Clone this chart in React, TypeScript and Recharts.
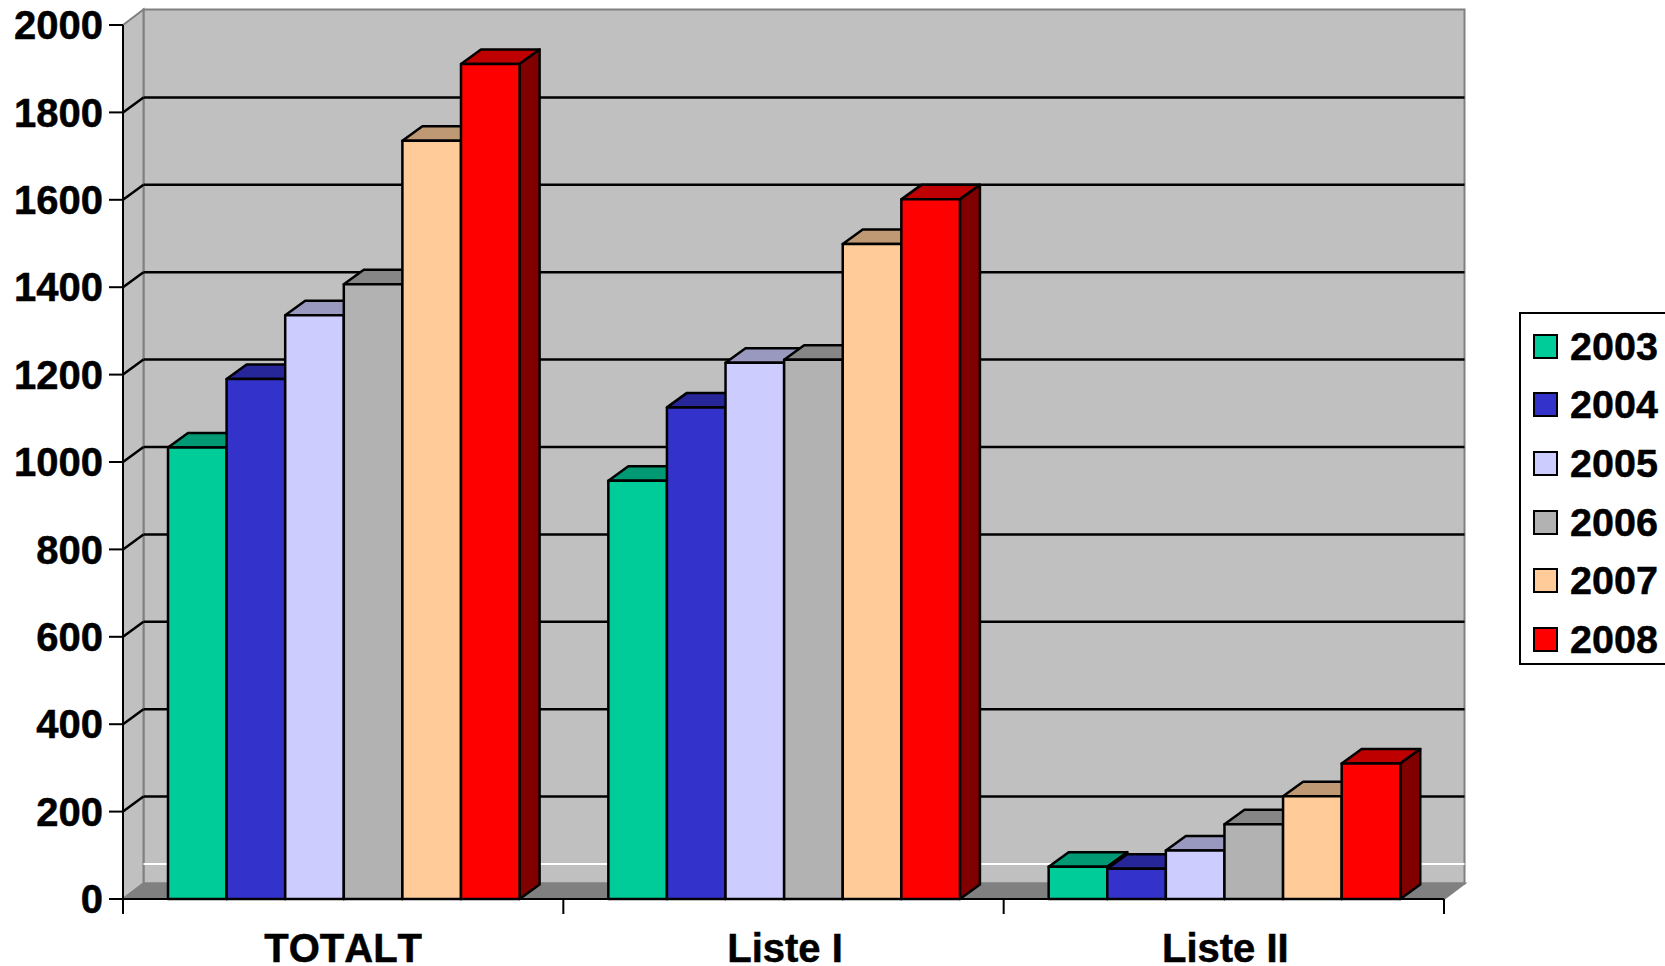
import { Bar, BarChart, CartesianGrid, Legend, XAxis, YAxis } from "recharts";

const categories = ["TOTALT", "Liste I", "Liste II"];
const years = ["2003", "2004", "2005", "2006", "2007", "2008"];

const values2003 = [1033, 957, 74];
const values2004 = [1190, 1125, 69];
const values2005 = [1336, 1227, 111];
const values2006 = [1407, 1234, 171];
const values2007 = [1735, 1499, 235];
const values2008 = [1911, 1601, 310];
const seriesValues = [values2003, values2004, values2005, values2006, values2007, values2008];

const yTicks = [0, 200, 400, 600, 800, 1000, 1200, 1400, 1600, 1800, 2000];

const frontColors = ["#00CC99", "#3333CC", "#CCCCFF", "#B2B2B2", "#FFCC99", "#FF0000"];
const topColors = ["#009973", "#262699", "#9999BF", "#868686", "#BF9973", "#BF0000"];
const sideColors = ["#00664D", "#1A1A66", "#666680", "#595959", "#80664D", "#800000"];

const data = categories.map((name, i) => {
  const row: Record<string, string | number> = { name };
  years.forEach((year, s) => {
    row[year] = seriesValues[s][i];
  });
  return row;
});

const font = "'Liberation Sans', Arial, sans-serif";
const depthX = 20;
const depthY = 14.5;
const wallX = 20.5;
const wallY = 15.5;
const gridY = 15;

function Box3D(props: any, top: string, side: string) {
  const { y, width, height, fill } = props;
  // recharts floors the group offset, so nudge back the lost pixel
  const x = props.x + 1;
  const r = x + width;
  const b = y + height;
  return (
    <g stroke="#000" strokeWidth={2.5} strokeLinejoin="round">
      <polygon points={`${x},${y} ${x + depthX},${y - depthY} ${r + depthX},${y - depthY} ${r},${y}`} fill={top} />
      <polygon points={`${r},${y} ${r + depthX},${y - depthY} ${r + depthX},${b - depthY} ${r},${b}`} fill={side} />
      <rect x={x} y={y} width={width} height={height} fill={fill} />
    </g>
  );
}

// back wall, side wall and floor go in with the first grid line so they sit behind the rest
function GridLine(props: any) {
  const { x1, x2, y1, index, x, y, width, height } = props;
  const left = x + wallX;
  const right = x + width + wallX;
  const bottom = y + height;
  const isEdge = y1 <= y + 1 || y1 >= bottom - 1;
  return (
    <g key={index}>
      {index === 0 && (
        <g stroke="#808080" strokeWidth={2}>
          <rect x={left} y={y - wallY} width={width} height={height} fill="#C0C0C0" />
          <polygon points={`${x},${y} ${left},${y - wallY} ${left},${bottom - wallY} ${x},${bottom}`} fill="#C0C0C0" />
          <polygon points={`${x},${bottom} ${left},${bottom - wallY} ${right},${bottom - wallY} ${x2},${bottom}`} fill="#808080" />
          <line x1={left} x2={right} y1={bottom - 35} y2={bottom - 35} stroke="#fff" />
        </g>
      )}
      {!isEdge && (
        <g stroke="#000" strokeWidth={2.5}>
          <line x1={x1} y1={y1} x2={x1 + wallX} y2={y1 - gridY} />
          <line x1={x1 + wallX} y1={y1 - gridY} x2={x2 + wallX} y2={y1 - gridY} />
        </g>
      )}
    </g>
  );
}

function CategoryTick(props: any) {
  const { x, y, payload, index } = props;
  const half = payload.offset;
  return (
    <g>
      <line x1={x - half} x2={x - half} y1={y} y2={y + 15} stroke="#000" strokeWidth={2} />
      {index === categories.length - 1 && (
        <line x1={x + half} x2={x + half} y1={y} y2={y + 15} stroke="#000" strokeWidth={2} />
      )}
      <text
        x={x + (index === 0 ? 0 : 1.5)}
        y={y + 63}
        textAnchor="middle"
        fontFamily={font}
        fontSize={40}
        fontWeight={700}
        fill="#000"
        stroke="#000"
        strokeWidth={0.5}
        style={{ fontKerning: "none" }}
      >
        {payload.value}
      </text>
    </g>
  );
}

function LegendBox({ payload }: any) {
  return (
    <div style={{ border: "2px solid #000", background: "#fff", width: 170, height: 353, boxSizing: "border-box", paddingTop: 3 }}>
      {(payload || []).map((item: any) => (
        <div key={item.value} style={{ display: "flex", alignItems: "center", height: 58.6 }}>
          <span style={{ width: 25, height: 25, boxSizing: "border-box", marginLeft: 12, marginRight: 12, border: "2px solid #000", background: item.color }} />
          <span style={{ fontFamily: font, fontSize: 39.5, fontWeight: 700, color: "#000", WebkitTextStroke: "0.5px #000" }}>{item.value}</span>
        </div>
      ))}
    </div>
  );
}

export default function App() {
  return (
    <div style={{ position: "absolute", left: 0, top: 0, width: 1665, height: 966, overflow: "hidden", background: "#fff" }}>
      <BarChart
        width={1665}
        height={966}
        data={data}
        margin={{ top: 25, right: 221, bottom: 0, left: 0 }}
        barSize={58.6}
        barGap={0}
      >
        <CartesianGrid vertical={false} horizontal={GridLine} />
        <XAxis
          dataKey="name"
          height={67}
          axisLine={{ stroke: "#000", strokeWidth: 2 }}
          tickLine={false}
          tickSize={0}
          tickMargin={0}
          tick={CategoryTick}
          interval={0}
        />
        <YAxis
          width={123}
          domain={[0, 2000]}
          ticks={yTicks}
          interval={0}
          tickSize={14}
          tickMargin={6}
          axisLine={{ stroke: "#000", strokeWidth: 2 }}
          tickLine={{ stroke: "#000", strokeWidth: 2 }}
          tick={{ fontFamily: font, fontSize: 40, fontWeight: 700, fill: "#000", stroke: "#000", strokeWidth: 0.5 }}
        />
        <Legend
          layout="vertical"
          align="center"
          verticalAlign="middle"
          content={LegendBox}
          wrapperStyle={{ left: 1519, top: 312, width: 170 }}
        />
        {years.map((year, s) => (
          <Bar
            key={year}
            dataKey={year}
            name={year}
            fill={frontColors[s]}
            isAnimationActive={false}
            shape={(p: any) => Box3D(p, topColors[s], sideColors[s])}
          />
        ))}
      </BarChart>
    </div>
  );
}
